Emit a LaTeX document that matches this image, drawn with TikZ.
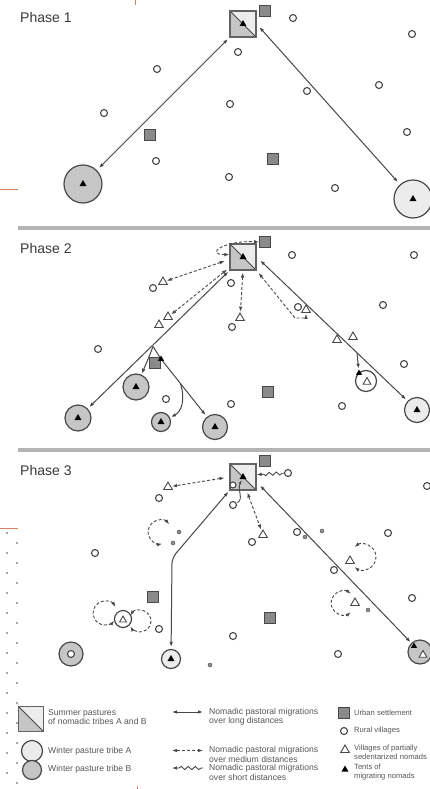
\documentclass[tikz,border=0pt]{standalone}
\usepackage{fontspec}
\setmainfont{Liberation Sans}
\usetikzlibrary{arrows.meta,shapes.geometric,decorations.pathmorphing,calc}
\definecolor{ln}{HTML}{484848}
\definecolor{ga}{HTML}{ECECEC}
\definecolor{gb}{HTML}{C6C6C6}
\definecolor{urb}{HTML}{8A8A8A}
\definecolor{barc}{HTML}{B4B4B4}
\definecolor{orng}{HTML}{D9825F}
\definecolor{txt}{HTML}{3A3A3A}
\tikzset{
 rural/.style={circle,draw=ln,line width=1.1pt,fill=white,minimum size=7pt,inner sep=0pt},
 urban/.style={rectangle,draw=ln,line width=0.9pt,fill=urb,minimum size=11pt,inner sep=0pt},
 vill/.style={regular polygon,regular polygon sides=3,draw=ln,line width=0.9pt,fill=white,minimum size=10pt,inner sep=0pt},
 tent/.style={regular polygon,regular polygon sides=3,fill=black,minimum size=8pt,inner sep=0pt},
 sdot/.style={circle,fill=ln!60,draw=ln,line width=0.4pt,minimum size=4pt,inner sep=0pt},
 winA/.style={circle,draw=ln,line width=1.2pt,fill=ga,inner sep=0pt},
 winB/.style={circle,draw=ln,line width=1.2pt,fill=gb,inner sep=0pt},
 ringw/.style={circle,draw=ln,line width=1.2pt,fill=white,inner sep=0pt},
 summer/.style={rectangle,draw=ln!85,line width=1.2pt,fill=ga,minimum size=26pt,inner sep=0pt,
   path picture={\fill[gb] (path picture bounding box.north west) -- (path picture bounding box.south west) -- (path picture bounding box.south east) -- cycle;
   \draw[ln,line width=0.8pt] (path picture bounding box.north west) -- (path picture bounding box.south east);}},
 longarr/.style={draw=ln,line width=1pt,{Latex[length=5pt,width=3.6pt]}-{Latex[length=5pt,width=3.6pt]}},
 singarr/.style={draw=ln,line width=1pt,-{Latex[length=5pt,width=3.6pt]}},
 medarr/.style={draw=ln,line width=0.9pt,dash pattern=on 3pt off 2pt,{Latex[length=5pt,width=3.6pt]}-{Latex[length=5pt,width=3.6pt]}},
 shortarr/.style={draw=ln,line width=0.9pt,-{Latex[length=5pt,width=3.6pt]},decorate,
   decoration={snake,amplitude=1.6pt,segment length=7pt,pre length=2pt,post length=5pt}},
 phase/.style={anchor=base west,text=txt,font=\fontsize{14}{16}\selectfont,inner sep=0pt},
 legt/.style={anchor=west,text=txt!85,font=\fontsize{8.6}{9.5}\selectfont,align=left,inner sep=0pt},
 legs/.style={legt,font=\fontsize{7.6}{9}\selectfont},
 sepbar/.style={draw=barc,line width=4pt},
 orl/.style={draw=orng,line width=1pt}
}
\begin{document}
\begin{tikzpicture}[x=1pt,y=-1pt]
\useasboundingbox[fill=white] (0,0) rectangle (430,789);
% slide artefacts
\draw[orl] (0,189) -- (18,189);
\draw[orl] (135.5,0) -- (135.5,5);
\draw[orl] (0,528) -- (18,528);
\draw[orl] (137,786) -- (137,789);
\foreach \i in {0,...,25} {
  \pgfmathsetmacro{\xx}{mod(\i,2)==0 ? 7 : 17}
  \fill[black!70] (\xx,533+\i*10) circle[radius=0.8];
}
% separators
\draw[sepbar] (18,228) -- (430,228);
\draw[sepbar] (18,450) -- (430,450);

% ================= PHASE 1
\node[phase] (p1) at (20,23) {Phase 1};
\node[urban] (u1) at (265,11) {};
\node[summer] (s1) at (243,24) {};
\node[tent] (t1) at (s1) {};
\foreach \p [count=\k] in {(293,18),(412,34),(238,52),(157,69),(307,91),(379,85),(104,113),(230,104),(407,132),(156,161),(229,177),(335,188)}
  \node[rural] (r1-\k) at \p {};
\node[urban] (u1b) at (150,135) {};
\node[urban] (u1c) at (273,159) {};
\node[winB,minimum size=38pt] (b1) at (83,184) {};
\node[tent] (tb1) at (b1) {};
\node[winA,minimum size=38pt] (a1) at (413,199) {};
\node[tent] (ta1) at (a1) {};
\draw[longarr,shorten <=2pt,shorten >=3pt] (s1.south west) -- (b1);
\draw[longarr,shorten <=4pt,shorten >=3pt] (s1.east) -- (a1);

% ================= PHASE 2
\node[phase] (p2) at (20,253) {Phase 2};
\node[urban] (u2) at (265,242) {};
\node[summer] (s2) at (243,257) {};
\node[tent] (t2) at (s2) {};
\foreach \p [count=\k] in {(292,255),(414,255),(231,283),(383,305),(404,364),(342,406),(98,349),(166,399),(231,404),(153,288),(298,307),(232,327)}
  \node[rural] (r2-\k) at \p {};
\node[vill] (v2a) at (163,282) {};
\node[vill] (v2b) at (168,317) {};
\node[vill] (v2b2) at (159,325) {};
\node[vill] (v2c) at (240,318) {};
\node[vill] (v2d) at (306,310) {};
\node[vill] (v2e) at (337,340) {};
\node[vill] (v2f) at (353,337) {};
\node[urban] (u2b) at (155,363) {};
\node[urban] (u2c) at (268,392) {};
\node[winB,minimum size=26pt] (b2a) at (78,418) {};
\node[tent] at (b2a) {};
\node[winB,minimum size=26pt] (b2b) at (136,387) {};
\node[tent] at (b2b) {};
\node[winB,minimum size=19pt] (b2c) at (161,422) {};
\node[tent] at (b2c) {};
\node[winB,minimum size=25pt] (b2d) at (215,427) {};
\node[tent] at (b2d) {};
\node[winA,minimum size=25pt] (a2) at (417,410) {};
\node[tent] at (a2) {};
\node[ringw,minimum size=21pt] (rg2) at (366,381) {};
\node[vill,minimum size=9pt] (v2g) at (367,382) {};
\node[tent,minimum size=7pt] (t2r) at (359,373) {};
\node[tent,minimum size=7pt] (t2u) at (161,359) {};
% dashed medium
\draw[medarr] (s2.170) .. controls +(-26,0) and +(-34,-2) .. (u2.west);
\draw[medarr,shorten <=5pt,shorten >=1pt] (s2.190) -- (v2a);
\draw[medarr,shorten <=3pt,shorten >=1pt] (s2.218) -- (v2b);
\draw[medarr,shorten <=2pt,shorten >=1pt] (s2.south) -- (v2c);
\coordinate (k2) at (295,318);
\draw[medarr,shorten <=3pt,shorten >=1pt] (s2.south east) -- (k2) -| (v2d);
% solid long
\draw[longarr,shorten <=1.5pt,shorten >=2pt] (s2.south west) -- (b2a);
\coordinate (br2) at (153,346.5);
\draw[singarr,shorten >=1pt] (br2) .. controls (149,357) .. (b2b);
\draw[draw=ln,line width=1pt] (br2) -- (t2u);
\draw[singarr,shorten >=2pt] (t2u) -- (b2d);
\path (t2u) -- (b2d) coordinate[pos=0.4] (br3);
\draw[singarr,shorten >=1pt] (br3) .. controls (186,400) and (181,412) .. (b2c);
\draw[longarr,shorten <=5pt,shorten >=2pt] (s2.east) -- (a2);
\path (s2.east) -- (a2) coordinate[pos=0.665] (br4);
\draw[singarr,shorten >=1pt] (br4) -- (t2r);

% ================= PHASE 3
\node[phase] (p3) at (20,475.5) {Phase 3};
\node[urban] (u3) at (265,461) {};
\node[summer] (s3) at (243,477) {};
\node[tent] (t3) at (s3) {};
\node[rural,minimum size=6pt] (ri) at (233,485) {};
\node[rural] (rw) at (288,473) {};
\node[rural] (rs) at (233,505) {};
\foreach \p [count=\k] in {(159,498),(252,542),(95,553),(159,629),(233,636),(297,532),(388,533),(427,486),(412,598),(338,654),(334,570)}
  \node[rural] (r3-\k) at \p {};
\foreach \p [count=\k] in {(305,537),(322,531),(179,532),(173,543),(368,610),(210,665)}
  \node[sdot] (d3-\k) at \p {};
\node[vill] (v3a) at (168,487) {};
\node[vill] (v3b) at (263,535) {};
\node[vill] (v3c) at (350,561) {};
\node[vill] (v3d) at (355,603) {};
\node[urban] (u3b) at (153,597) {};
\node[urban] (u3c) at (270,618) {};
\node[ringw,minimum size=17pt] (rl3) at (123,619) {};
\node[vill,minimum size=8pt] (v3e) at (123,620) {};
\node[winB,minimum size=24pt] (cc3) at (71,654) {};
\node[rural] (rc3) at (cc3) {};
\node[winA,minimum size=19pt] (a3) at (171,659) {};
\node[tent] at (a3) {};
\node[winB,minimum size=24pt] (b3) at (420,652) {};
\node[vill,minimum size=9pt] (v3f) at (423,655) {};
\node[tent,minimum size=7pt] (t3b) at (414,646) {};
% connectors
\draw[shortarr] (rw) -- (s3.10);
\draw[draw=ln,line width=0.9pt,-{Latex[length=4pt,width=3pt]},shorten <=1pt,shorten >=1pt] (rs) .. controls (244,499) and (237,490) .. (t3);
\draw[medarr,shorten <=5pt,shorten >=1pt] (s3.west) -- (v3a);
\coordinate (bend3) at (172,558);
\draw[longarr,rounded corners=6pt,shorten <=1.5pt,shorten >=2pt] (s3.south west) -- (bend3) -- (a3);
\draw[medarr,shorten <=2pt,shorten >=2pt] (s3.-75) -- (v3b);
\draw[longarr,shorten <=5pt,shorten >=1pt] (s3.-20) -- (b3);
% loops
\coordinate (La) at (160,532);
\coordinate (Lb) at (363,557);
\coordinate (Lc) at (343,603);
\coordinate (Ld) at (105,613);
\coordinate (Le) at (140,621);
\draw[medarr] ($(La)+(-40:12)$) arc[start angle=-40,end angle=-280,radius=12];
\draw[medarr] ($(Lb)+(-130:13)$) arc[start angle=-130,end angle=130,radius=13];
\draw[medarr] ($(Lc)+(-50:12)$) arc[start angle=-50,end angle=-310,radius=12];
\draw[medarr] ($(Ld)+(-30:12)$) arc[start angle=-30,end angle=-320,radius=12];
\draw[medarr] ($(Le)+(-150:11)$) arc[start angle=-150,end angle=150,radius=11];

% ================= LEGEND
\node[summer,minimum size=25pt] (ls) at (31,719) {};
\node[winA,minimum size=21pt] (la) at (32,751) {};
\node[winB,minimum size=19pt] (lb) at (32,770) {};
\node[legt] at (48,717) {Summer pastures\\of nomadic tribes A and B};
\node[legt] at (48,751) {Winter pasture tribe A};
\node[legt] at (48,769) {Winter pasture tribe B};
\coordinate (l1a) at (172,712); \coordinate (l1b) at (203,712);
\coordinate (l2a) at (172,750.5); \coordinate (l2b) at (203,750.5);
\coordinate (l3a) at (203,768); \coordinate (l3b) at (172,768);
\draw[longarr] (l1a) -- (l1b);
\draw[medarr] (l2a) -- (l2b);
\draw[shortarr] (l3a) -- (l3b);
\node[legt] at (209,717) {Nomadic pastoral migrations\\over long distances};
\node[legt] at (209,754.5) {Nomadic pastoral migrations\\over medium distances};
\node[legt] at (209,772.5) {Nomadic pastoral migrations\\over short distances};
\node[urban] (lu) at (344,713) {};
\node[rural] (lr) at (344,731) {};
\node[vill] (lv) at (345,750) {};
\node[tent] (lt) at (345,769.5) {};
\node[legs] at (354,713) {Urban settlement};
\node[legs] at (354,731) {Rural villages};
\node[legs] at (354,752) {Villages of partially\\sedentarized nomads};
\node[legs] at (354,772) {Tents of\\migrating nomads};
\end{tikzpicture}
\end{document}
